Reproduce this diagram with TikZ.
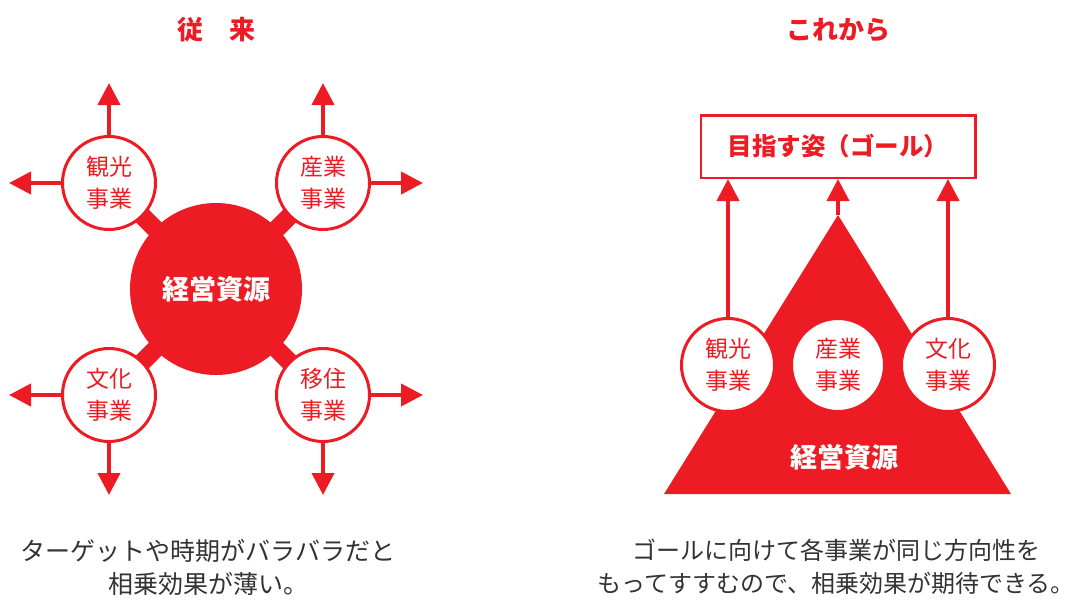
\documentclass[tikz,border=0pt]{standalone}
\usepackage{fontspec}
\setmainfont{Noto Sans CJK JP}
\usetikzlibrary{arrows.meta,positioning,backgrounds}
\definecolor{jred}{RGB}{237,28,36}
\definecolor{jtext}{RGB}{51,51,51}

\begin{document}
\begin{tikzpicture}[x=1pt,y=-1pt,
    biz/.style={circle,draw=jred,line width=3pt,fill=white,minimum size=93pt,
      inner sep=0pt,align=center,text=jred,font=\fontsize{23}{32}\selectfont},
    core/.style={circle,fill=jred,minimum size=172pt,text=white,
      font=\bfseries\fontsize{27}{27}\selectfont},
    bond/.style={jred,line width=18pt},
    goto/.style={jred,line width=4pt,-{Triangle[width=22pt,length=22pt]}},
    title/.style={text=jred,font=\bfseries\fontsize{26}{26}\selectfont},
    note/.style={text=jtext,align=center,inner sep=0pt,font=\fontsize{25}{33}\selectfont}]
    \useasboundingbox (0,0) rectangle (1078,602);

    \node[title] (past) at (216,30) {従　来};
    \node[title] (future) at (838,30) {これから};

    \node[core] (res) at (216,289) {経営資源};
    \node[biz] (kanko) at (109,183) {観光\\事業};
    \node[biz] (sangyo) at (323,183) {産業\\事業};
    \node[biz] (bunka) at (109,395) {文化\\事業};
    \node[biz] (iju) at (323,395) {移住\\事業};
    \begin{scope}[on background layer]
      \foreach \b in {kanko,sangyo,bunka,iju}
        \draw[bond] (res.center) -- (\b.center);
    \end{scope}

    \coordinate[above=52pt of kanko] (kanko-n);
    \coordinate[left=52pt of kanko] (kanko-w);
    \coordinate[above=52pt of sangyo] (sangyo-n);
    \coordinate[right=52pt of sangyo] (sangyo-e);
    \coordinate[left=52pt of bunka] (bunka-w);
    \coordinate[below=52pt of bunka] (bunka-s);
    \coordinate[right=52pt of iju] (iju-e);
    \coordinate[below=52pt of iju] (iju-s);
    \draw[goto] (kanko) -- (kanko-n);
    \draw[goto] (kanko) -- (kanko-w);
    \draw[goto] (sangyo) -- (sangyo-n);
    \draw[goto] (sangyo) -- (sangyo-e);
    \draw[goto] (bunka) -- (bunka-w);
    \draw[goto] (bunka) -- (bunka-s);
    \draw[goto] (iju) -- (iju-e);
    \draw[goto] (iju) -- (iju-s);

    \node[draw=jred,line width=2.5pt,minimum width=274.5pt,minimum height=62.5pt,
      text=jred,font=\bfseries\fontsize{24.5}{24.5}\selectfont] (goal) at (838,146.5) {目指す姿（ゴール）};
    \coordinate (apex) at (838,215);
    \coordinate (base-l) at (664,494);
    \coordinate (base-r) at (1011,494);
    \fill[jred] (apex) -- (base-l) -- (base-r) -- cycle;
    \node[biz] (kanko2) at (728,365) {観光\\事業};
    \node[biz, right=14pt of kanko2] (sangyo2) {産業\\事業};
    \node[biz, right=14pt of sangyo2] (bunka2) {文化\\事業};
    \node[text=white,font=\bfseries\fontsize{27}{27}\selectfont] (res2) at (844,457) {経営資源};
    \draw[goto] (kanko2) -- (kanko2 |- goal.south);
    \draw[goto] (apex) -- (goal.south);
    \draw[goto] (bunka2) -- (bunka2 |- goal.south);

    \node[note] (pastnote) at (208,567) {ターゲットや時期がバラバラだと\\相乗効果が薄い。};
    \node[note, font=\fontsize{24}{33}\selectfont] (futurenote) at (836,567) {ゴールに向けて各事業が同じ方向性を\\もってすすむので、相乗効果が期待できる。};
\end{tikzpicture}
\end{document}
